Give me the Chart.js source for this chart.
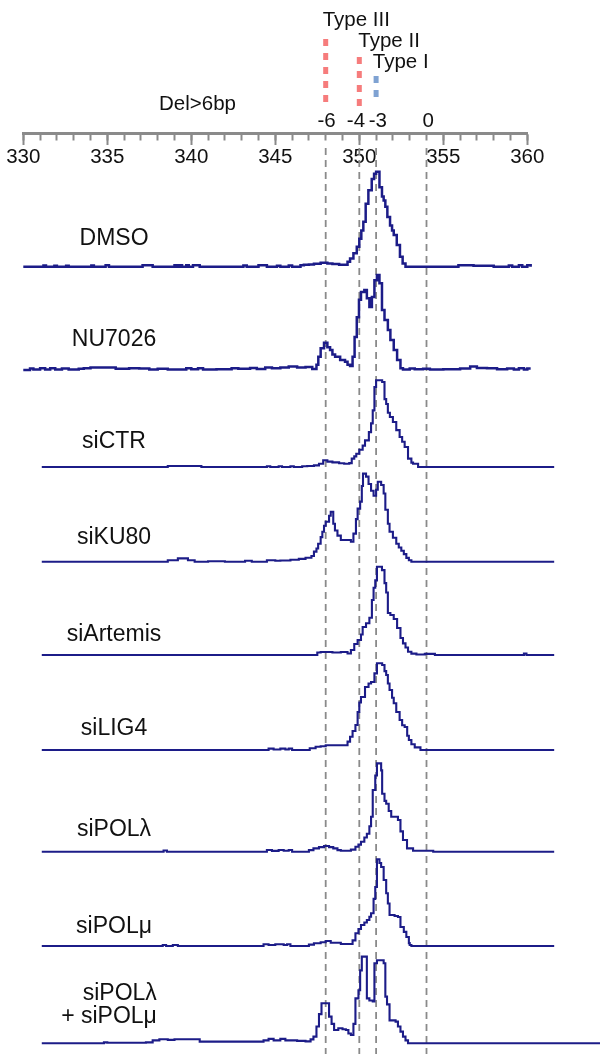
<!DOCTYPE html>
<html>
<head>
<meta charset="utf-8">
<script src="https://cdn.jsdelivr.net/npm/chart.js@4.4.1/dist/chart.umd.min.js"></script>
<style>
html,body{margin:0;padding:0;background:#fff;}
#wrap{width:600px;height:1054px;}
</style>
</head>
<body>
<div id="wrap"><canvas id="c" width="600" height="1054"></canvas></div>
<script>
// ---------------- DATA ----------------
const SAMPLES = ['DMSO', 'NU7026', 'siCTR', 'siKU80', 'siArtemis', 'siLIG4', 'siPOLλ', 'siPOLμ', 'siPOLλ\n+ siPOLμ'];

// fragment size (bp) vs relative signal (% of lane height), step traces
const DMSO = [[330,0],[331.2,1.2],[331.35,0],[331.85,1],[332,0],[332.55,1],[332.7,0],[334.05,1.2],[334.2,0],[334.9,1.5],[335.1,0],[337.1,1.4],[337.7,0],[339.0,1.3],[339.15,0],[339.3,1.5],[339.45,0],[339.7,1.3],[339.85,0],[340.1,1.3],[340.5,0],[343.1,1.2],[343.3,0],[344.0,1.4],[344.5,0],[345.1,1],[345.3,0],[345.8,1.2],[346.0,0],[346.5,1.3],[346.7,1.8],[347.0,2.2],[347.3,2.8],[347.7,3.9],[348.1,3],[348.4,2.6],[348.8,2],[349.1,1.8],[349.3,4.8],[349.45,8],[349.65,12.9],[349.85,19.4],[350.0,27],[350.12,35],[350.24,43.6],[350.38,61],[350.54,74],[350.74,85],[350.88,90],[351.0,92],[351.2,77],[351.35,68],[351.45,64],[351.55,58],[351.67,48],[351.83,40],[351.95,35],[352.05,30.7],[352.23,21],[352.42,9.7],[352.58,3.2],[352.75,0],[355.9,1.3],[356.8,1],[358.0,0],[358.9,1.2],[359.1,0],[359.5,1.3],[359.7,0],[360.0,1.5],[360.2,0]];
const NU7026 = [[330,0],[330.4,1.5],[330.6,0.5],[331.0,1.6],[331.3,0.5],[331.6,1.8],[331.9,0.6],[332.3,1.5],[332.7,0.6],[333.3,1.2],[333.6,1.8],[334.0,2.3],[335.5,1.2],[336.3,1.8],[336.9,1.4],[337.5,0.6],[338.0,1.2],[338.6,0.5],[339.7,1.8],[340.0,0.8],[340.4,1.6],[340.7,0.5],[341.5,0.8],[342.4,1.6],[342.8,1.2],[343.5,2],[343.9,1],[344.4,2.5],[344.8,1.6],[345.3,2.5],[345.8,3.5],[346.3,2.4],[346.8,3],[347.2,1],[347.45,5],[347.56,12.9],[347.7,21],[347.9,26.4],[348.1,22],[348.26,19.4],[348.4,15],[348.56,12.9],[348.86,9.7],[349.15,8],[349.3,5],[349.45,3.9],[349.6,12.9],[349.72,32],[349.85,51],[349.98,68],[350.1,75.5],[350.3,77.4],[350.45,69.4],[350.6,61],[350.75,70.7],[350.9,87],[351.05,92],[351.2,84],[351.35,58],[351.5,48.4],[351.7,38.7],[351.85,29],[352.05,19.4],[352.25,9.7],[352.45,1.6],[352.6,0.6],[353.0,1.5],[353.3,0.8],[353.8,1.2],[354.2,0.5],[355.0,0.8],[356.0,1.5],[356.6,3.5],[357.0,2],[357.6,1.6],[358.2,0.8],[358.8,1.5],[359.2,0.5],[359.5,1.8],[359.8,0.6],[360.0,1.5],[360.2,1.5]];
const SICTR = [[331.1,0],[338.6,1],[340.6,0],[344.5,0.8],[344.7,0],[345.2,0.8],[345.4,0],[345.9,0.8],[346.1,0],[346.6,0.8],[346.9,1],[347.3,1.7],[347.6,3.4],[347.85,6.9],[348.1,5.5],[348.4,4.8],[348.8,3.8],[349.1,3.4],[349.4,4],[349.55,8.6],[349.7,11],[349.82,13.7],[350.0,17.8],[350.2,22],[350.34,27.5],[350.57,36],[350.7,45],[350.8,58.4],[350.9,82.5],[351.0,89.4],[351.36,87.6],[351.5,70],[351.6,65],[351.7,56],[351.82,51.5],[352.0,46.4],[352.2,38],[352.4,31],[352.55,26],[352.7,20.6],[352.9,8.6],[353.1,4.5],[353.2,3.4],[353.5,0],[361.6,0]];
const SIKU80 = [[331.1,0],[338.6,1.5],[339.2,3.5],[339.8,1.5],[340.2,0],[341.0,0.5],[342.0,0],[343.2,1],[343.6,0],[344.5,1.5],[345.0,1],[345.3,1.2],[345.9,2],[346.4,3],[346.8,4.2],[347.15,6],[347.3,10.6],[347.45,14],[347.55,19],[347.7,26],[347.8,31.7],[347.9,38],[348.0,42.2],[348.2,48.6],[348.3,52.8],[348.45,40],[348.55,33],[348.7,27.5],[348.9,22.9],[349.5,21.1],[349.65,29.6],[349.8,45],[349.9,56],[350.05,63.4],[350.15,80],[350.22,93],[350.4,89.8],[350.55,82],[350.7,75],[350.85,69.7],[351.0,76],[351.1,84.5],[351.3,81],[351.45,72],[351.55,54.9],[351.7,40],[351.8,31.7],[352.0,25.3],[352.2,19],[352.35,15],[352.5,11.6],[352.65,8],[352.8,4],[352.95,1.5],[353.1,0],[361.6,0]];
const SIARTEMIS = [[331.1,0],[347.3,0],[347.5,2.7],[347.7,3.2],[348.0,3.2],[348.4,2.7],[348.9,3.2],[349.3,1.6],[349.5,5.4],[349.7,11.8],[349.9,16],[350.1,22],[350.2,30],[350.4,34],[350.6,40],[350.75,59],[350.85,72],[350.95,80],[351.05,94.6],[351.35,91],[351.5,77],[351.6,67],[351.7,45],[351.85,42.9],[352.05,38.6],[352.25,29],[352.45,18.2],[352.6,12.5],[352.75,8],[352.9,3.5],[353.1,1.5],[353.4,0.5],[353.9,1.2],[354.5,0],[359.8,1.5],[359.95,0],[361.6,0]];
const SILIG4 = [[331.1,0],[344.6,1.4],[344.9,0.5],[345.3,1.4],[345.6,0.5],[345.8,1.4],[346.0,0],[347.05,1.8],[347.4,3.5],[347.7,4],[348.0,5],[349.2,5],[349.3,8.8],[349.45,14],[349.6,20],[349.77,26.3],[349.9,40],[350.0,50],[350.1,55.8],[350.34,66.3],[350.55,70],[350.7,71.6],[350.9,80.7],[351.05,91.3],[351.36,89.5],[351.5,83],[351.6,79],[351.7,70],[351.8,63.2],[351.95,55],[352.05,49.2],[352.2,40],[352.4,31.6],[352.55,26],[352.7,24.2],[352.85,15],[352.95,10.5],[353.1,6],[353.3,2.8],[353.64,0],[361.6,0]];
const SIPOLL = [[331.1,0],[338.35,1.2],[338.55,0],[344.5,1.6],[344.8,0.8],[345.2,1.6],[345.5,1],[345.8,1.6],[346.0,0],[347.0,1.5],[347.27,3.3],[347.6,4.5],[347.9,5.6],[348.2,4.5],[348.45,3.3],[348.7,1.5],[348.9,1],[349.5,2],[349.77,4.9],[349.95,7],[350.1,9.8],[350.3,14],[350.45,17.7],[350.6,25],[350.7,34.4],[350.8,60.7],[350.95,75],[351.05,86.8],[351.3,80],[351.36,57],[351.5,50],[351.6,47.2],[351.75,40],[351.9,34.4],[352.3,31.2],[352.45,20],[352.6,11.5],[352.84,3.3],[353.2,1],[354.4,0],[361.6,0]];
const SIPOLM = [[331.1,0],[338.3,1],[338.5,0],[338.9,1],[339.2,0],[344.3,1.8],[344.6,1],[345.0,1.8],[345.5,1],[345.7,1.8],[345.9,0],[347.0,1.5],[347.3,2.9],[347.7,4],[348.0,5.3],[348.3,3.5],[348.6,3.5],[348.9,2.1],[349.5,2.1],[349.6,6],[349.77,13.5],[349.95,18],[350.1,22.3],[350.3,25],[350.45,27.6],[350.6,31],[350.7,34.7],[350.85,50],[350.95,62.6],[351.05,92],[351.2,88],[351.3,83.8],[351.45,70],[351.6,55.9],[351.7,45],[351.8,32.9],[352.1,31.8],[352.3,30.8],[352.45,20.1],[352.65,15],[352.8,9.5],[352.95,3],[353.0,1],[353.1,0],[361.6,0]];
const SIPOLLM = [[331.1,0],[334.8,1],[335.0,0.5],[337.3,1],[337.7,3],[338.1,4.1],[338.6,3.5],[339.0,4.1],[340.5,1.7],[342.0,1.7],[344.3,3],[344.6,4.5],[344.9,3],[345.3,4.5],[345.6,3],[346.3,2.5],[346.8,2],[347.1,4],[347.27,6.9],[347.45,17.2],[347.6,30],[347.75,41.1],[348.1,41.1],[348.2,27.4],[348.35,20],[348.5,13.7],[348.75,15.4],[349.0,14.5],[349.2,13.7],[349.35,10],[349.5,8.5],[349.65,20],[349.77,46.2],[349.95,54.5],[350.05,75],[350.15,89.1],[350.35,89.1],[350.45,46.2],[350.6,44],[350.8,42.9],[350.9,82.2],[351.05,85.3],[351.3,85.3],[351.45,82.2],[351.55,48],[351.65,40],[351.8,23.6],[352.16,22.3],[352.3,17.2],[352.45,12],[352.6,6.9],[352.75,3],[352.9,0],[364.5,0]];

const TRACES = [DMSO, NU7026, SICTR, SIKU80, SIARTEMIS, SILIG4, SIPOLL, SIPOLM, SIPOLLM];

const AXIS_MIN = 330, AXIS_MAX = 360, MINOR_STEP = 1, MAJOR_STEP = 5;
const GUIDE_POS = [348, 350, 351, 354];          // reference sizes (bp)
const DEL_LABELS = ['-6', '-4', '-3', '0'];      // deletion size at each reference
const TYPE_NAMES = ['Type III', 'Type II', 'Type I'];
const TYPE_POS = [348, 350, 351];
const TYPE_COLORS = ['#f67c7c', '#f67c7c', '#7fa2d2'];
const DEL_GT_LABEL = 'Del>6bp';

// ---------------- LAYOUT (positions / styles) ----------------
const FONT = "'Liberation Sans', Arial, Helvetica, sans-serif";
const LANE_WEIGHTS = [163.4, 103.3, 103.3, 97, 94.7, 93.3, 95, 101.7, 94.3, 97.3]; // header + 9 lanes
const HEADER_H = LANE_WEIGHTS[0];
const AXIS_Y = 133.8;
const GUIDE_TOP = 148, GUIDE_BOTTOM = 1054;
const TYPE_SPAN = [[39, 108], [57, 108], [76, 99]];
const TYPE_LABEL_X = [347.82, 349.94, 350.8];
const TYPE_LABEL_Y = [26, 46.7, 68.3];
const DEL_LABEL_X = [348.05, 349.8, 351.1, 354.1];
const DEL_LABEL_Y = 126.7;
const DEL_GT_X = 340.37, DEL_GT_Y = 109.5;
const SAMPLE_X = 335.4;
const SAMPLE_Y = [27, 29, 26, 25, 21.5, 22, 21.3, 20.5];
const MULTI_X = 337.95, MULTI_Y = [50.7, 27.3];
const GRAY = '#8a8a8a';
const TRACE_COLOR = '#1c1c88';

// ---------------- BUILD ----------------
const datasets = [];
GUIDE_POS.forEach(p => datasets.push({
  data: [{x: p, y: GUIDE_TOP}, {x: p, y: GUIDE_BOTTOM}],
  xAxisID: 'x', yAxisID: 'yh', borderColor: GRAY, borderWidth: 1.8,
  borderDash: [7, 5], pointRadius: 0, clip: false, order: 10, borderCapStyle: 'butt'
}));
TYPE_POS.forEach((p, i) => datasets.push({
  data: [{x: p, y: TYPE_SPAN[i][0]}, {x: p, y: TYPE_SPAN[i][1]}],
  xAxisID: 'x', yAxisID: 'yh', borderColor: TYPE_COLORS[i], borderWidth: 5,
  borderDash: [7, 7], pointRadius: 0, clip: false, order: 9, borderCapStyle: 'butt'
}));
TRACES.forEach((t, i) => datasets.push({
  label: SAMPLES[i], data: t, xAxisID: 'x', yAxisID: 'y' + i,
  borderColor: TRACE_COLOR, borderWidth: i < 2 ? 2.5 : 2.1, stepped: true,
  pointRadius: 0, clip: false, order: 1, tension: 0
}));

const scales = {
  x: {
    type: 'linear', position: {yh: AXIS_Y},
    afterDataLimits: s => { s.min = AXIS_MIN; s.max = AXIS_MAX; },
    ticks: {display: false, stepSize: MINOR_STEP, maxTicksLimit: 100},
    grid: {drawOnChartArea: false, drawTicks: true, tickLength: 5.5, tickWidth: 2, tickColor: GRAY},
    border: {display: true, width: 3, color: GRAY}
  },
  x5: {
    type: 'linear', position: {yh: AXIS_Y}, min: AXIS_MIN, max: AXIS_MAX,
    ticks: {stepSize: MAJOR_STEP, maxTicksLimit: 100, autoSkip: false, maxRotation: 0,
      padding: 0.5, color: '#111', font: {family: FONT, size: 20.5}},
    grid: {drawOnChartArea: false, drawTicks: true, tickLength: 11, tickWidth: 2, tickColor: GRAY},
    border: {display: false}
  },
  yh: {type: 'linear', position: 'right', stack: 'lanes', stackWeight: LANE_WEIGHTS[0],
    reverse: true, min: 0, max: HEADER_H, display: false}
};
TRACES.forEach((t, i) => {
  scales['y' + i] = {type: 'linear', position: 'right', stack: 'lanes',
    stackWeight: LANE_WEIGHTS[i + 1], min: 0, max: 100, display: false};
});

const textPlugin = {
  id: 'texts',
  afterDatasetsDraw(chart) {
    const ctx = chart.ctx, xs = chart.scales.x, yh = chart.scales.yh;
    ctx.save();
    ctx.fillStyle = '#111';
    ctx.font = '20.5px ' + FONT;
    ctx.textBaseline = 'alphabetic';
    ctx.textAlign = 'left';
    TYPE_NAMES.forEach((t, i) => ctx.fillText(t, xs.getPixelForValue(TYPE_LABEL_X[i]), yh.getPixelForValue(TYPE_LABEL_Y[i])));
    ctx.textAlign = 'center';
    DEL_LABELS.forEach((t, i) => ctx.fillText(t, xs.getPixelForValue(DEL_LABEL_X[i]), yh.getPixelForValue(DEL_LABEL_Y)));
    ctx.fillText(DEL_GT_LABEL, xs.getPixelForValue(DEL_GT_X), yh.getPixelForValue(DEL_GT_Y));
    ctx.font = '23px ' + FONT;
    ctx.textBaseline = 'middle';
    SAMPLES.forEach((s, i) => {
      const ys = chart.scales['y' + i];
      const lines = s.split('\n');
      if (lines.length === 1) {
        ctx.textAlign = 'center';
        ctx.fillText(s, xs.getPixelForValue(SAMPLE_X), ys.getPixelForValue(SAMPLE_Y[i]));
      } else {
        ctx.textAlign = 'right';
        lines.forEach((l, j) => ctx.fillText(l, xs.getPixelForValue(MULTI_X), ys.getPixelForValue(MULTI_Y[j])));
      }
    });
    ctx.restore();
  }
};

new Chart(document.getElementById('c'), {
  type: 'line',
  data: {datasets},
  options: {
    responsive: false, animation: false, devicePixelRatio: 1,
    layout: {padding: {left: 23.3, right: 72.7, top: 0, bottom: 10.7}},
    plugins: {legend: {display: false}, tooltip: {enabled: false}},
    scales
  },
  plugins: [textPlugin]
});
</script>
</body>
</html>
